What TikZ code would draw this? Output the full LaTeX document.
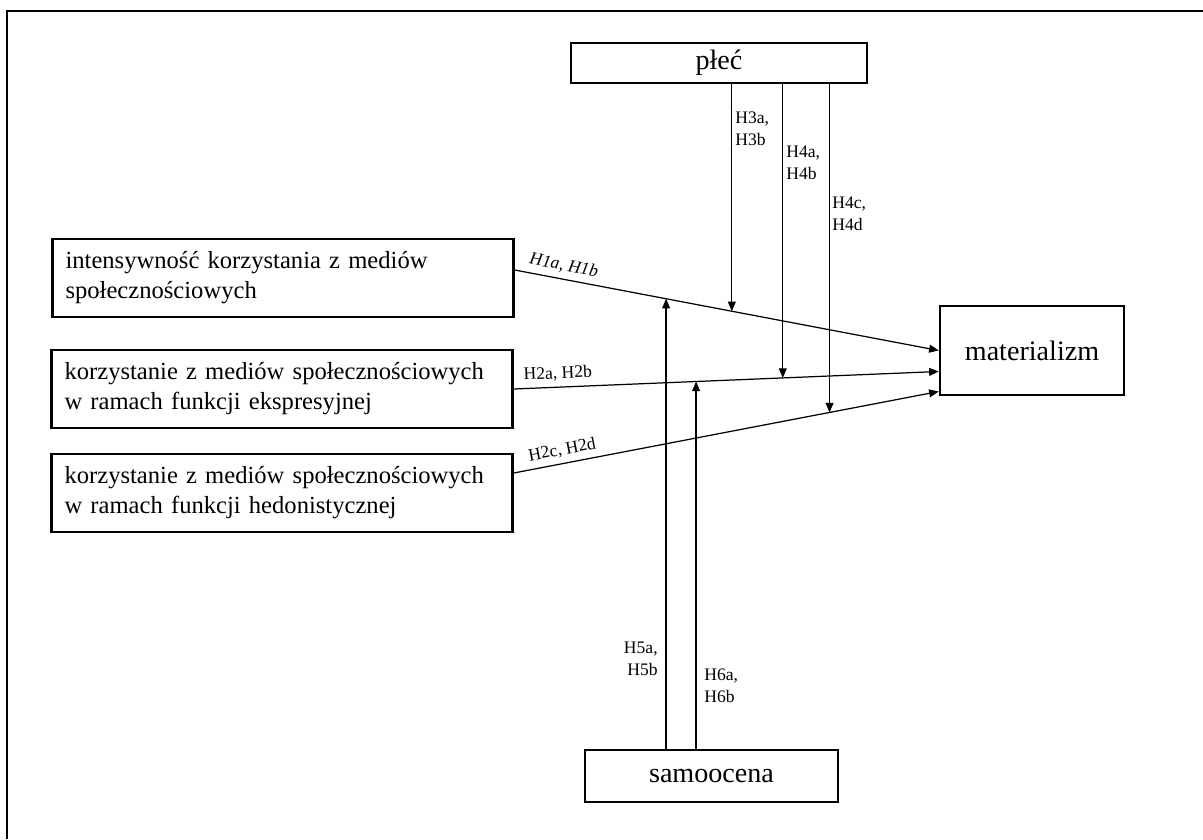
\documentclass[tikz,border=0pt]{standalone}
\usepackage{fontspec}
\setmainfont{Liberation Serif}
\usetikzlibrary{arrows.meta, positioning, calc}

\tikzset{
  box/.style={draw, line width=1.4pt, inner sep=0pt},
  varbox/.style={box, align=left, text width=8.7cm, inner xsep=0.26cm,
                 minimum height=1.56cm, font=\fontsize{14}{17}\selectfont},
  bigbox/.style={box, align=center, font=\fontsize{16}{19}\selectfont},
  arr/.style={-{Triangle[length=5.5pt,width=4.5pt]}, line width=0.7pt},
  hyp/.style={font=\fontsize{10}{12.5}\selectfont, inner sep=0pt},
  hypit/.style={font=\fontsize{10}{12.5}\selectfont\itshape, inner sep=0pt}
}

\begin{document}
\begin{tikzpicture}[x=0.02cm, y=-0.02cm]
    \useasboundingbox (0,0) rectangle (1203,839);

    % Ramka
    \draw[line width=1.2pt] (7,839) -- (7,11) -- (1203,11);

    % --- Zmienne ---
    \node[varbox] (int) at (283,278) {intensywność korzystania z mediów\\społecznościowych};
    \node[varbox] (eks) at (282,389) {korzystanie z mediów społecznościowych\\w ramach funkcji ekspresyjnej};
    \node[varbox] (hed) at (282,493) {korzystanie z mediów społecznościowych\\w ramach funkcji hedonistycznej};

    \node[bigbox, minimum width=5.92cm, minimum height=0.8cm] (plec) at (719,63) {płeć};
    \node[bigbox, minimum width=3.68cm, minimum height=1.78cm] (mat) at (1032,350.5) {materializm};
    \node[bigbox, minimum width=5.06cm, minimum height=1.04cm] (samo) at (711.5,776) {samoocena};

    % --- Sciezki glowne ---
    \draw[arr] ([yshift=0.16cm]int.east) -- (mat.west)
        node[pos=0.11, above=3pt, sloped, hypit] {H1a, H1b}
        coordinate[pos=0.512] (k1) coordinate[pos=0.357] (s1);
    \draw[arr] (eks.east) -- ([yshift=-0.42cm]mat.west)
        node[pos=0.105, above=3pt, sloped, hyp] {H2a, H2b}
        coordinate[pos=0.633] (k2) coordinate[pos=0.429] (s2);
    \draw[arr] ([yshift=0.4cm]hed.east) -- ([yshift=-0.82cm]mat.west)
        node[pos=0.12, above=3pt, sloped, hyp] {H2c, H2d}
        coordinate[pos=0.743] (k3);

    % --- Moderatory: plec ---
    \draw[arr] (plec.south -| k1) -- (k1);
    \draw[arr] (plec.south -| k2) -- (k2);
    \draw[arr] (plec.south -| k3) -- (k3);
    \node[hyp, align=left, anchor=north west] (h3) at (735,112) {H3a,\\H3b};
    \node[hyp, align=left, anchor=north west] (h4a) at (786,146) {H4a,\\H4b};
    \node[hyp, align=left, anchor=north west] (h4c) at (832,197) {H4c,\\H4d};

    % --- Moderatory: samoocena ---
    \draw[arr] (samo.north -| s1) -- (s1);
    \draw[arr] (samo.north -| s2) -- (s2);
    \node[hyp, align=right, anchor=north east] (h5) at (658,642) {H5a,\\H5b};
    \node[hyp, align=left, anchor=north west] (h6) at (704,669) {H6a,\\H6b};
\end{tikzpicture}
\end{document}
